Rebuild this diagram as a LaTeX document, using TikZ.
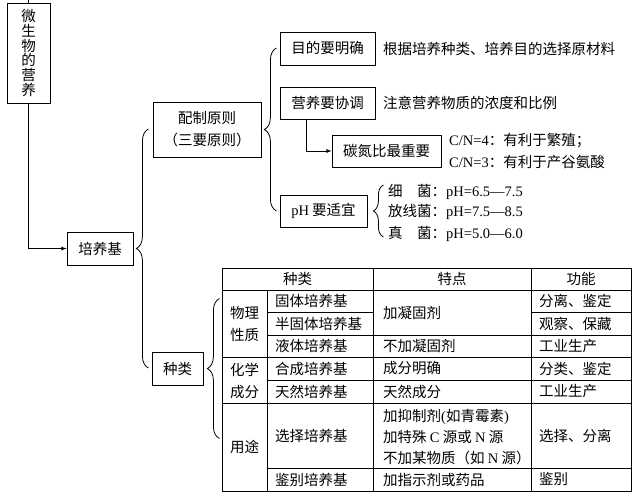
\documentclass[tikz,border=0pt]{standalone}
\usepackage{fontspec}
\setmainfont{Noto Sans CJK SC}
\newfontfamily\lat{Liberation Serif}
\usepackage{tikz}
\usetikzlibrary{arrows, calc, decorations.pathreplacing}

\tikzset{
    kuang/.style={draw, line width=0.8pt, inner sep=0pt, align=center},
    zi/.style={inner sep=0pt, anchor=west},
    kuohao/.style={decorate, decoration={brace, amplitude=12pt}, line width=0.8pt},
    jian/.style={-latex, line width=0.8pt},
    tline/.style={line width=0.7pt}
}

\begin{document}
\begin{tikzpicture}[x=1pt, y=-1pt, font=\fontsize{14.5}{16}\selectfont]
    \useasboundingbox (0,0) rectangle (640,493);

    % kuang
    \node[kuang, minimum width=43pt, minimum height=100pt, font=\fontsize{14.5}{14.7}\selectfont] (wsw) at (28.5,53) {微\\生\\物\\的\\营\\养};
    \node[kuang, minimum width=66pt, minimum height=33pt] (pyj) at (100,248.5) {培养基};
    \node[kuang, minimum width=108pt, minimum height=55pt, font=\fontsize{14.5}{22}\selectfont] (pz) at (207,129.5) {配制原则\\（三要原则）};
    \node[kuang, minimum width=51pt, minimum height=33pt] (zl) at (177.5,368.5) {种类};
    \node[kuang, minimum width=95pt, minimum height=33pt] (md) at (327.5,48.5) {目的要明确};
    \node[kuang, minimum width=95pt, minimum height=32pt] (xt) at (327.5,103) {营养要协调};
    \node[kuang, minimum width=109pt, minimum height=32pt] (td) at (386.5,151) {碳氮比最重要};
    \node[kuang, minimum width=87pt, minimum height=32pt] (ph) at (323.5,211) {{\lat pH} 要适宜};

    \coordinate (ding) at (28.5,0);
    \draw[line width=0.8pt] (wsw.north) -- (ding);
    \draw[jian] (wsw.south) |- (pyj.west);
    \draw[jian] ($(xt.south)+(-21.5,0)$) |- (td.west);

    % kuohao
    \draw[kuohao] ($(pyj.east)+(15,119.5)$) -- ($(pyj.east)+(15,-119.5)$);
    \draw[kuohao] ($(pz.east)+(15,81.5)$) -- ($(pz.east)+(15,-81.5)$);
    \draw[kuohao, decoration={amplitude=10pt}] ($(ph.east)+(16,26)$) -- ($(ph.east)+(16,-26)$);
    \draw[kuohao] ($(zl.east)+(16,70)$) -- ($(zl.east)+(16,-70)$);

    \foreach \n/\y/\t in {mdt/48.5/{根据培养种类、培养目的选择原材料}, xtt/103/{注意营养物质的浓度和比例}} {
        \node[zi] (\n) at (383,\y) {\t};
    }
    \node[zi] (cn4) at (449,141) {{\lat C/N=4}：有利于繁殖；};
    \node[zi] (cn3) at (449,162) {{\lat C/N=3}：有利于产谷氨酸};
    \node[zi] (xj) at (388,192) {细\quad 菌：{\lat pH=6.5—7.5}};
    \node[zi] (fxj) at (388,212) {放线菌：{\lat pH=7.5—8.5}};
    \node[zi] (zj) at (388,234) {真\quad 菌：{\lat pH=5.0—6.0}};

    % biao
    \draw[tline] (222,268) rectangle (631,491);
    \foreach \x/\a in {267/290, 373/268, 531/268} {
        \draw[tline] (\x,\a) -- (\x,491);
    }
    \foreach \y/\a/\b in {290/222/631, 312/267/373, 312/531/631, 335/267/631, 357/222/631, 380/267/631, 403/222/631, 468/267/631} {
        \draw[tline] (\a,\y) -- (\b,\y);
    }

    \node[inner sep=0pt] (bt1) at (297.5,279) {种类};
    \node[inner sep=0pt] (bt2) at (452,279) {特点};
    \node[inner sep=0pt] (bt3) at (581,279) {功能};
    \node[inner sep=0pt, align=center, font=\fontsize{14.5}{22}\selectfont] (wl) at (244.5,324) {物理\\性质};
    \node[inner sep=0pt, align=center, font=\fontsize{14.5}{22}\selectfont] (hx) at (244.5,380.5) {化学\\成分};
    \node[inner sep=0pt] (yt) at (244.5,447) {用途};

    \foreach \n/\y/\t in {gt/301/固体培养基, bgt/323.5/半固体培养基, yet/346/液体培养基, hc/368.5/合成培养基, tr/391.5/天然培养基, xz/435.5/选择培养基, jb/479.5/鉴别培养基} {
        \node[zi] (\n) at (275,\y) {\t};
    }
    \foreach \n/\y/\t in {td1/312.5/加凝固剂, td2/346/不加凝固剂, td3/368.5/成分明确, td4/391.5/天然成分, td6/479.5/加指示剂或药品} {
        \node[zi] (\n) at (383,\y) {\t};
    }
    \node[zi, align=left, font=\fontsize{14.5}{21}\selectfont] (td5) at (383,437) {加抑制剂{\lat (}如青霉素{\lat )}\\加特殊 {\lat C} 源或 {\lat N} 源\\不加某物质（如 {\lat N} 源）};
    \foreach \n/\y/\t in {gn1/301/{分离、鉴定}, gn2/323.5/{观察、保藏}, gn3/346/工业生产, gn4/368.5/{分类、鉴定}, gn5/391.5/工业生产, gn6/435.5/{选择、分离}, gn7/479.5/鉴别} {
        \node[zi] (\n) at (539,\y) {\t};
    }
\end{tikzpicture}
\end{document}
